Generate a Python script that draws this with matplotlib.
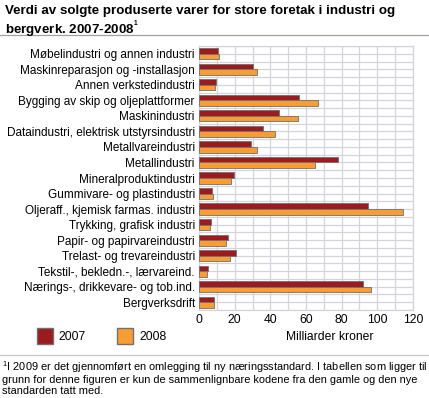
import numpy as np
import matplotlib.pyplot as plt
from matplotlib.lines import Line2D
from matplotlib.patches import Patch

plt.rcParams['font.family'] = ['Liberation Sans', 'DejaVu Sans']
plt.rcParams['mathtext.fontset'] = 'custom'
plt.rcParams['mathtext.rm'] = 'Liberation Sans'
plt.rcParams['mathtext.bf'] = 'Liberation Sans:bold'

categories = ["Møbelindustri og annen industri",
              "Maskinreparasjon og -installasjon",
              "Annen verkstedindustri",
              "Bygging av skip og oljeplattformer",
              "Maskinindustri",
              "Dataindustri, elektrisk utstyrsindustri",
              "Metallvareindustri",
              "Metallindustri",
              "Mineralproduktindustri",
              "Gummivare- og plastindustri",
              "Oljeraff., kjemisk farmas. industri",
              "Trykking, grafisk industri",
              "Papir- og papirvareindustri",
              "Trelast- og trevareindustri",
              "Tekstil-, bekledn.-, lærvareind.",
              "Nærings-, drikkevare- og tob.ind.",
              "Bergverksdrift"]
v2007 = [10.6, 30.2, 9.5, 56.2, 45.1, 35.8, 29.0, 77.8, 19.4, 7.4,
         94.8, 6.9, 16.0, 20.9, 5.2, 92.2, 8.2]
v2008 = [11.0, 32.4, 8.8, 66.5, 55.3, 42.5, 32.4, 65.0, 17.9, 7.8,
         114.2, 6.1, 15.3, 17.5, 4.5, 96.3, 8.4]

c07 = '#9b1b1f'
c08 = '#f89c34'
W, H = 429, 398

fig = plt.figure(figsize=(W / 100, H / 100), dpi=100)
ax = fig.add_axes([199 / W, 1 - 310 / H, 214 / W, 264 / H])

y = np.arange(len(categories))
h = 0.36
ax.barh(y - h / 2, v2007, height=h, color=c07, edgecolor='#707070', linewidth=0.6, zorder=3)
ax.barh(y + h / 2, v2008, height=h, color=c08, edgecolor='#707070', linewidth=0.6, zorder=3)

ax.set_ylim(len(categories) - 0.5, -0.5)
ax.set_xlim(0, 120)
ax.set_xticks(np.arange(0, 121, 20))
ax.set_xticks(np.arange(0, 121, 10), minor=True)
ax.set_yticks(y)
ax.set_yticklabels(categories, fontsize=8.5)
ax.set_yticks(np.arange(-0.5, len(categories), 1), minor=True)
ax.tick_params(axis='both', which='both', length=0)
ax.tick_params(axis='x', labelsize=8.7, pad=3)
ax.tick_params(axis='y', pad=3)
ax.grid(True, which='both', color='#d4d4dc', linewidth=0.9, zorder=0)
for s in ax.spines.values():
    s.set_color('#d4d4dc')
    s.set_linewidth(0.9)

fig.text(5 / W, 1 - 5 / H, "Verdi av solgte produserte varer for store foretak i industri og\n"
         r"bergverk. 2007-2008$^{\mathregular{^1}}$",
         fontsize=9.6, fontweight='bold', va='top', ha='left', linespacing=1.1)
fig.add_artist(Line2D([0, 1], [1 - 35 / H, 1 - 35 / H], color='#a0a0a0', linewidth=0.9))
fig.add_artist(Line2D([0, 1], [1 - 355 / H, 1 - 355 / H], color='#c8c8c8', linewidth=0.9))

fig.legend(handles=[Patch(facecolor=c07, edgecolor='#707070', label='2007'),
                    Patch(facecolor=c08, edgecolor='#707070', label='2008')],
           loc='center left', bbox_to_anchor=(26 / W, 1 - 336 / H), ncol=2, frameon=False,
           fontsize=8.7, handlelength=1.3, handleheight=1.6, columnspacing=2.6, handletextpad=0.5)
fig.text(330 / W, 1 - 337 / H, "Milliarder kroner", fontsize=8.7, ha='center', va='center')

fig.text(2 / W, 1 - 359 / H,
         r"$^{1}$I 2009 er det gjennomført en omlegging til ny næringsstandard. I tabellen som ligger til" "\n"
         "grunn for denne figuren er kun de sammenlignbare kodene fra den gamle og den nye\n"
         "standarden tatt med.", fontsize=7.9, va='top', ha='left', linespacing=1.05)

fig.savefig('out.png', dpi=100)
